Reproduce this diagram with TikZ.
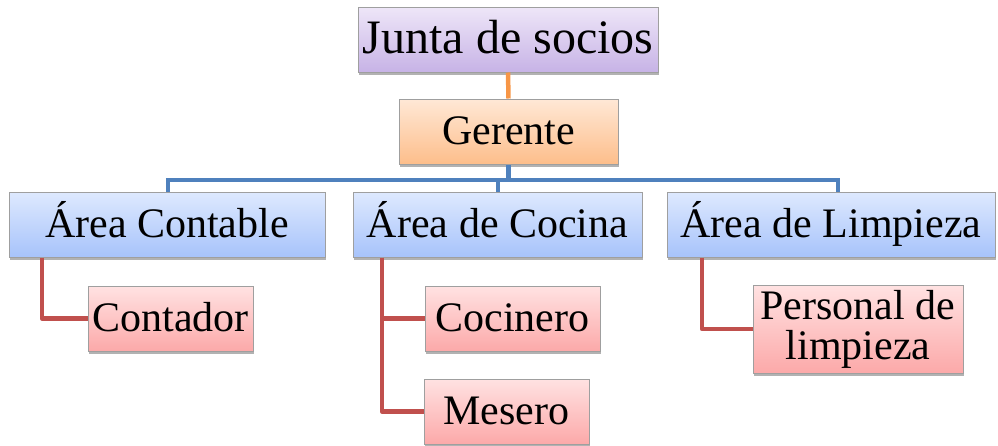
\documentclass[tikz,border=0pt]{standalone}
\usepackage{fontspec}
\setmainfont{Liberation Serif}
\usetikzlibrary{shadows}
\definecolor{purpT}{HTML}{EEE6F8}
\definecolor{purpB}{HTML}{C7B3E6}
\definecolor{oranT}{HTML}{FFE8D6}
\definecolor{oranB}{HTML}{FDBE8B}
\definecolor{blueT}{HTML}{DEE9FE}
\definecolor{blueB}{HTML}{A7C3FB}
\definecolor{pinkT}{HTML}{FFE2E2}
\definecolor{pinkB}{HTML}{FCA9A9}
\definecolor{lineO}{HTML}{F79646}
\definecolor{lineB}{HTML}{4F81BD}
\definecolor{lineR}{HTML}{C0504D}
\tikzset{
  orgbox/.style={draw=gray!75, line width=1pt, inner sep=0pt,
    minimum height=65pt, text height=33pt, text depth=7pt,
    font=\fontsize{42}{40}\selectfont,
    drop shadow={shadow xshift=1pt, shadow yshift=-3pt, opacity=0.3, fill=black}},
  purpbox/.style={orgbox, top color=purpT, bottom color=purpB},
  oranbox/.style={orgbox, top color=oranT, bottom color=oranB},
  bluebox/.style={orgbox, top color=blueT, bottom color=blueB},
  pinkbox/.style={orgbox, top color=pinkT, bottom color=pinkB},
  conn/.style={line width=4.5pt},
}
\begin{document}
\begin{tikzpicture}[x=1pt,y=-1pt]
\useasboundingbox (0,0) rectangle (998,445);
\coordinate (busL) at (168,180);
\coordinate (busM) at (498,180);
\coordinate (busR) at (838,180);
\coordinate (rl) at (42,257);
\coordinate (rc) at (382,257);
\coordinate (rr) at (702,257);

\node[purpbox, minimum width=300pt, text height=36pt, text depth=9pt,
      font=\fontsize{48}{50}\selectfont] (junta) at (508,39.5) {Junta de socios};
\node[oranbox, minimum width=219pt] (gerente) at (508.5,131.5) {Gerente};
\node[bluebox, minimum width=316pt] (ac) at (167,224.5) {Área Contable};
\node[bluebox, minimum width=289pt] (acoc) at (497.5,224.5) {Área de Cocina};
\node[bluebox, minimum width=328pt] (al) at (831,224.5) {Área de Limpieza};
\node[pinkbox, minimum width=165pt] (contador) at (170.5,318.5) {Contador};
\node[pinkbox, minimum width=175pt] (cocinero) at (512.5,318.5) {Cocinero};
\node[pinkbox, minimum width=165pt] (mesero) at (506.5,411.5) {Mesero};
\node[pinkbox, minimum width=210pt, minimum height=88pt, text height=, text depth=,
      align=center] (personal) at (858,329) {Personal de\\limpieza};

\draw[conn, lineO] (junta.south) -- (gerente.north);
\draw[conn, lineB] (gerente.south) -- (gerente.south |- busM);
\draw[conn, lineB] ([xshift=-2.25pt]busL) -- ([xshift=2.25pt]busR);
\draw[conn, lineB] (busL) -- (busL |- ac.north);
\draw[conn, lineB] (busM) -- (busM |- acoc.north);
\draw[conn, lineB] (busR) -- (busR |- al.north);
\draw[conn, lineR, line join=round] (ac.south -| rl) |- (contador.west);
\draw[conn, lineR, line join=round] (acoc.south -| rc) |- (cocinero.west);
\draw[conn, lineR, line join=round] (acoc.south -| rc) |- (mesero.west);
\draw[conn, lineR, line join=round] (al.south -| rr) |- (personal.west);
\end{tikzpicture}
\end{document}
